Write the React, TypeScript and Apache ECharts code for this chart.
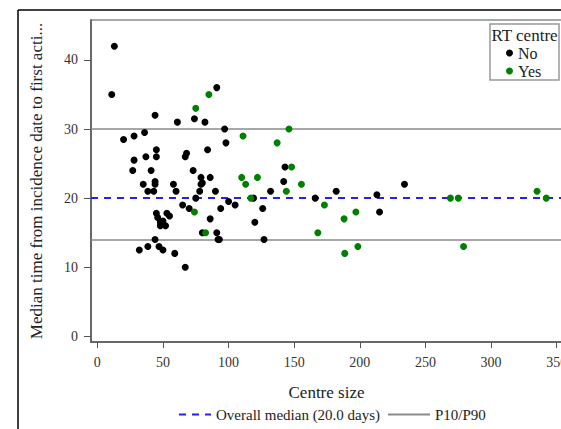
import React, { useEffect, useRef } from "react";
import * as echarts from "echarts";

const xTicks = [0, 50, 100, 150, 200, 250, 300, 350];
const yTicks = [0, 10, 20, 30, 40];
const overallMedian = 20;
const p10 = 14;
const p90 = 30;

const medianLabel = "Overall median (20.0 days)";
const pctLabel = "P10/P90";

// RT centre = No : [centre size, median days]
const rtNo: [number, number][] = [
  [13, 42], [11, 35], [20, 28.5], [28, 29], [36, 29.5], [44, 32],
  [28, 25.5], [27, 24], [37, 26], [45, 27], [45, 26], [41, 24],
  [35, 22], [44, 22.4], [44, 22], [38.5, 21], [43, 21], [58, 22],
  [60, 21], [61, 31], [74, 31.5], [82, 31], [91, 36], [84, 27],
  [67, 26], [68, 26.5], [73, 24], [79, 23], [80, 22.2], [79, 22],
  [86, 23], [78, 21], [75, 20], [90, 21], [97, 30], [98, 28],
  [119, 20], [132, 21], [100, 19.5], [105, 19], [94, 18.5], [126, 18.5],
  [65, 19], [70, 18.5], [45, 17.8], [53, 17.8], [46, 17.2], [55, 17.4],
  [48, 16.5], [50, 16.7], [52, 16], [48, 16], [44, 14], [38.5, 13],
  [32, 12.5], [47, 13], [50, 12.5], [59, 12], [67, 10], [80, 15],
  [86, 17], [91, 15], [92, 14], [93, 14], [120, 16.5], [127, 14],
  [143, 24.5], [142, 22.4], [166, 20], [182, 21], [213, 20.5], [215, 18],
  [234, 22],
];

// RT centre = Yes
const rtYes: [number, number][] = [
  [75, 33], [85, 35], [111, 29], [110, 23], [113, 22], [122, 23],
  [117, 20], [74, 18], [82.5, 15], [137, 28], [146, 30], [148, 24.5],
  [144, 21], [155.5, 22], [173, 19], [197, 18], [188, 17], [168, 15],
  [198.5, 13], [188.5, 12], [269, 20], [275, 20], [279, 13], [335, 21],
  [342, 20],
];

export default function App() {
  const ref = useRef<HTMLDivElement>(null);

  useEffect(() => {
    if (!ref.current) return;
    const chart = echarts.init(ref.current, null, { renderer: "svg" });
    const font = "Liberation Serif";
    const blue = "#1f1fff";
    const gray = "#8a8a8a";
    const axisColor = "#555";
    const hiddenSymbol = { color: "transparent", borderColor: "transparent", borderWidth: 0, opacity: 0 };

    chart.setOption({
      animation: false,
      backgroundColor: "#fff",
      textStyle: { fontFamily: font },
      grid: {
        left: 91,
        right: -1,
        top: 20,
        bottom: 87,
        containLabel: false,
        outerBoundsMode: "none",
        show: true,
        borderColor: "#8a8a8a",
        borderWidth: 1.5,
      },
      xAxis: {
        type: "value",
        min: -4.8,
        max: 354,
        name: "Centre size",
        nameLocation: "middle",
        nameGap: 42,
        nameTextStyle: { fontFamily: font, fontSize: 17, color: "#222" },
        axisLine: { show: true, onZero: false, lineStyle: { color: axisColor, width: 1.5 } },
        axisTick: { show: true, length: 6, customValues: xTicks, lineStyle: { color: axisColor } },
        axisLabel: { customValues: xTicks, margin: 13, fontFamily: font, fontSize: 14, color: "#333" },
        splitLine: { show: false },
      },
      yAxis: {
        type: "value",
        min: -0.83,
        max: 45.79,
        name: "Median time from incidence date to first acti...",
        nameLocation: "middle",
        nameRotate: 90,
        nameGap: 46,
        nameTextStyle: { fontFamily: font, fontSize: 17, color: "#222" },
        axisLine: { show: true, onZero: false, lineStyle: { color: axisColor, width: 1.5 } },
        axisTick: { show: true, length: 7, customValues: yTicks, lineStyle: { color: axisColor } },
        axisLabel: { customValues: yTicks, margin: 13, fontFamily: font, fontSize: 14, color: "#333" },
        splitLine: { show: false },
      },
      legend: [
        {
          data: [medianLabel],
          left: 178,
          top: 407,
          padding: 0,
          itemWidth: 32,
          itemHeight: 10,
          itemStyle: hiddenSymbol,
          textStyle: { fontFamily: font, fontSize: 15, color: "#222" },
        },
        {
          data: [pctLabel],
          left: 387,
          top: 407,
          padding: 0,
          itemWidth: 42,
          itemHeight: 10,
          itemStyle: hiddenSymbol,
          textStyle: { fontFamily: font, fontSize: 15, color: "#222" },
        },
        {
          data: ["No", "Yes"],
          orient: "vertical",
          left: 506,
          top: 45,
          padding: 0,
          icon: "circle",
          itemWidth: 7,
          itemHeight: 7,
          itemGap: 2,
          textStyle: { fontFamily: font, fontSize: 16, color: "#222" },
        },
      ],
      graphic: [
        { type: "line", shape: { x1: 18, y1: 10, x2: 561, y2: 10 }, style: { stroke: "#000", lineWidth: 1.5 } },
        { type: "line", shape: { x1: 18, y1: 10, x2: 18, y2: 429 }, style: { stroke: "#000", lineWidth: 1.5 } },
        {
          type: "rect",
          shape: { x: 490, y: 24, width: 69, height: 56 },
          style: { fill: "#fff", stroke: "#999", lineWidth: 1.5 },
        },
        {
          type: "text",
          x: 524.5,
          y: 35,
          style: { text: "RT centre", fontFamily: font, fontSize: 17, fill: "#222", align: "center", verticalAlign: "middle" },
        },
      ],
      series: [
        {
          name: medianLabel,
          type: "line",
          data: [],
          symbol: "none",
          color: blue,
          lineStyle: { color: blue, type: [7, 6], width: 2 },
          markLine: {
            silent: true,
            symbol: ["none", "none"],
            label: { show: false },
            lineStyle: { color: blue, type: [7, 6], width: 2 },
            data: [{ yAxis: overallMedian }],
          },
        },
        {
          name: pctLabel,
          type: "line",
          data: [],
          symbol: "none",
          color: gray,
          lineStyle: { color: gray, type: "solid", width: 1.5 },
          markLine: {
            silent: true,
            symbol: ["none", "none"],
            label: { show: false },
            lineStyle: { color: gray, type: "solid", width: 1.5 },
            data: [{ yAxis: p10 }, { yAxis: p90 }],
          },
        },
        {
          name: "No",
          type: "scatter",
          data: rtNo,
          symbol: "circle",
          symbolSize: 7,
          itemStyle: { color: "#000", opacity: 1 },
          z: 5,
        },
        {
          name: "Yes",
          type: "scatter",
          data: rtYes,
          symbol: "circle",
          symbolSize: 7,
          itemStyle: { color: "#008000", opacity: 1 },
          z: 5,
        },
      ],
    });

    return () => chart.dispose();
  }, []);

  return (
    <div
      ref={ref}
      style={{ position: "fixed", left: 0, top: 0, width: 561, height: 429, background: "#fff" }}
    />
  );
}
